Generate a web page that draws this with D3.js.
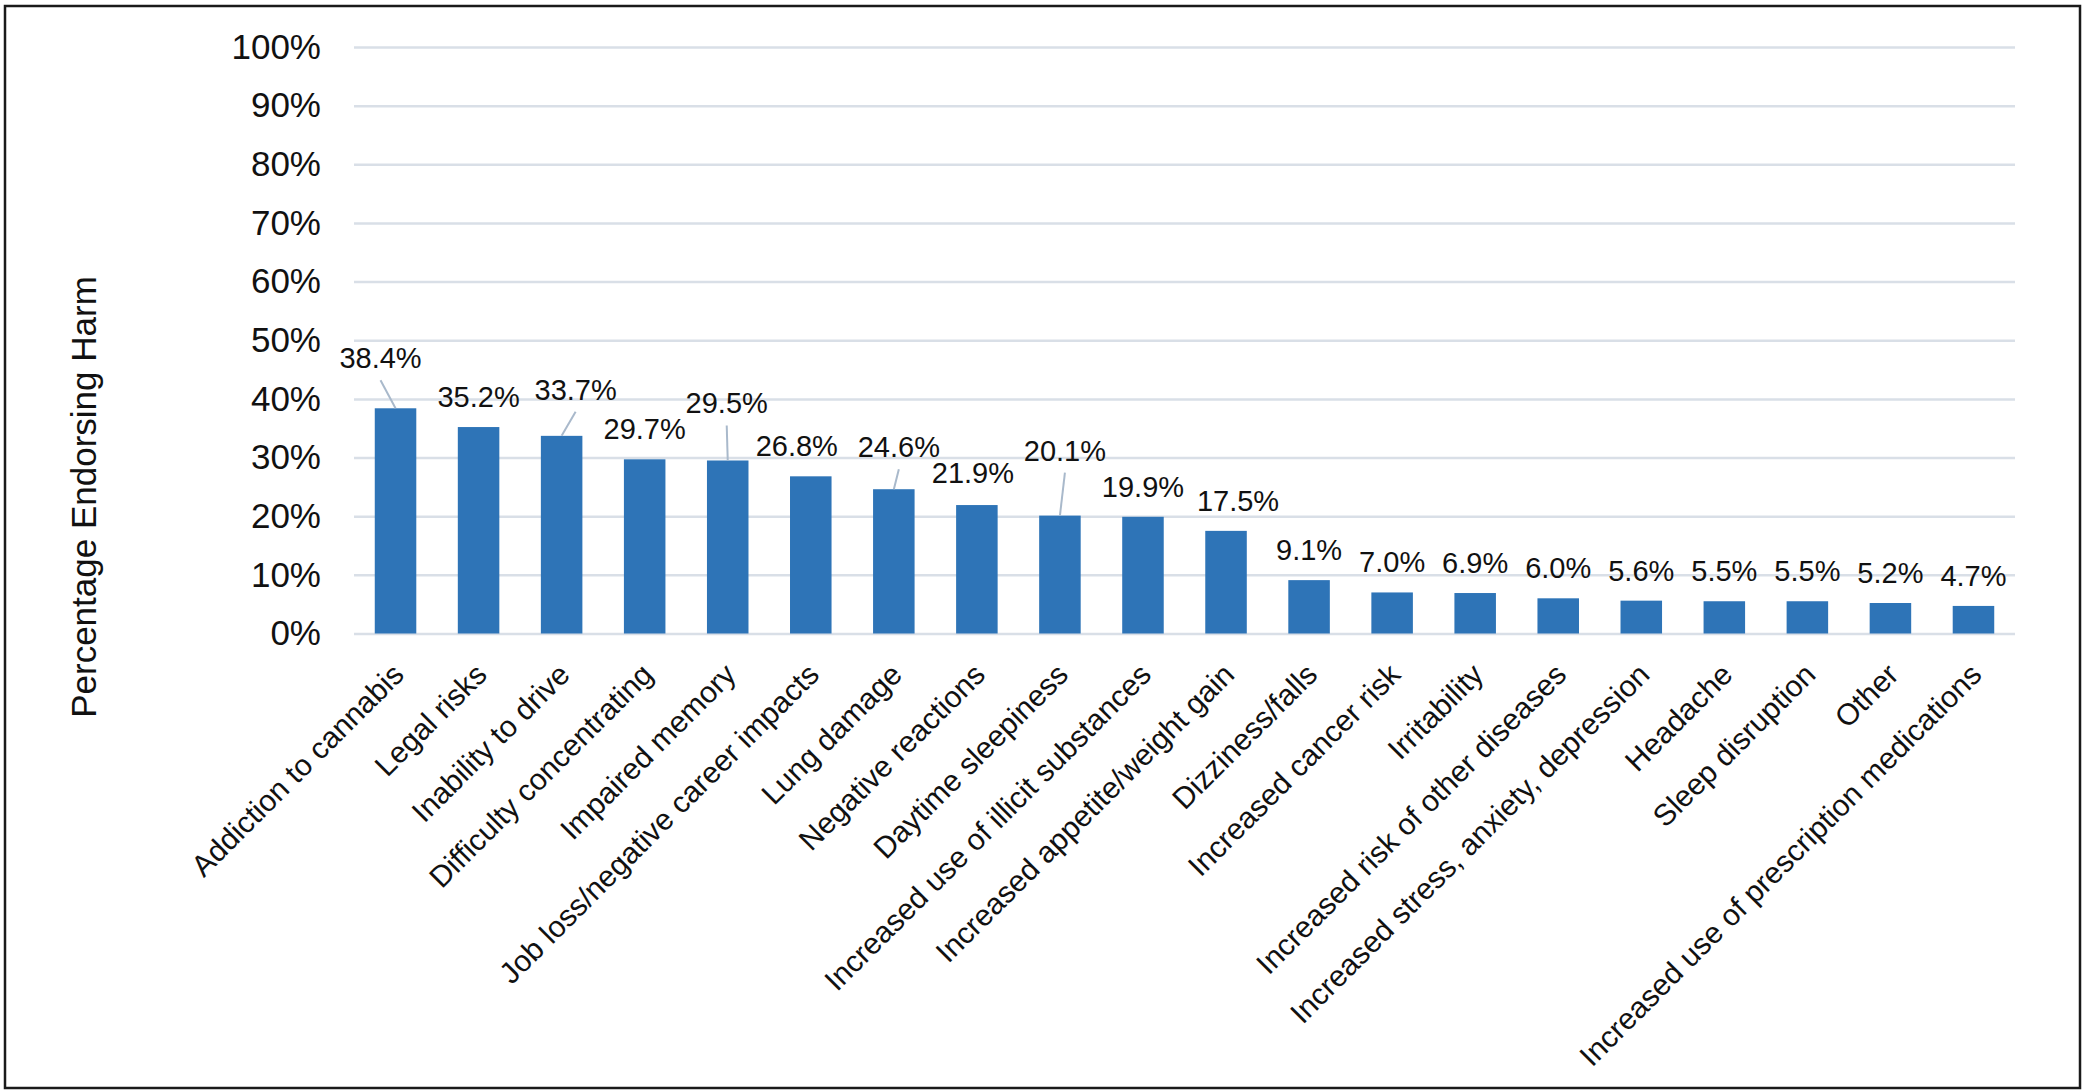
<!DOCTYPE html>
<html>
<head>
<meta charset="utf-8">
<script src="https://cdn.jsdelivr.net/npm/d3@7"></script>
<style>
    body { margin: 0; background: white; }
    text { font-family: "Liberation Sans", Arial, sans-serif; }
</style>
</head>
<body>
<div id="chart"></div>
<script>
//Chart data
const categories = ["Addiction to cannabis", "Legal risks", "Inability to drive", "Difficulty concentrating",
    "Impaired memory", "Job loss/negative career impacts", "Lung damage", "Negative reactions",
    "Daytime sleepiness", "Increased use of illicit substances", "Increased appetite/weight gain",
    "Dizziness/falls", "Increased cancer risk", "Irritability", "Increased risk of other diseases",
    "Increased stress, anxiety, depression", "Headache", "Sleep disruption", "Other",
    "Increased use of prescription medications"];
const values = [38.4, 35.2, 33.7, 29.7, 29.5, 26.8, 24.6, 21.9, 20.1, 19.9, 17.5,
    9.1, 7.0, 6.9, 6.0, 5.6, 5.5, 5.5, 5.2, 4.7];
const yTicks = [0, 10, 20, 30, 40, 50, 60, 70, 80, 90, 100];
const yTitle = "Percentage Endorsing Harm";

//Where the data labels were nudged away from the bar (pixels), and which ones get a leader line
const labelShift = [[-15, -20], [0, 0], [14, -16], [0, 0], [-1, -27], [-14, 0], [5, -12], [-4, -2],
    [5, -35], [0, 0], [12, 0], [0, 0], [0, 0], [0, 0], [0, 0], [0, 0], [0, 0], [0, 0], [0, 0], [0, 0]];
const hasLeader = [true, false, true, false, true, false, true, false, true, false,
    false, false, false, false, false, false, false, false, false, false];

const width = 2085;
const height = 1091;
const plotLeft = 354;
const plotRight = 2015;
const plotTop = 47;
const plotBottom = 633.5;

const svg = d3.select("#chart").append("svg")
    .attr("width", width)
    .attr("height", height);

svg.append("rect")
    .attr("width", width)
    .attr("height", height)
    .attr("fill", "white");

//outer frame
svg.append("rect")
    .attr("x", 5)
    .attr("y", 6)
    .attr("width", 2075)
    .attr("height", 1082)
    .attr("fill", "none")
    .attr("stroke", "#1a1a1a")
    .attr("stroke-width", 2.5);

const xScale = d3.scaleBand()
    .domain(categories)
    .range([plotLeft, plotRight])
    .paddingInner(0.5)
    .paddingOuter(0.25);

const yScale = d3.scaleLinear()
    .domain([0, 100])
    .range([plotBottom, plotTop]);

//gridlines + y labels
const yAxis = svg.append("g")
    .attr("transform", "translate(" + plotLeft + ",0)")
    .call(d3.axisLeft(yScale)
        .tickValues(yTicks)
        .tickSize(-(plotRight - plotLeft))
        .tickPadding(33)
        .tickFormat(d => d + "%"));
yAxis.select(".domain").remove();
yAxis.selectAll(".tick line")
    .attr("stroke", "#d9dfe7")
    .attr("stroke-width", 2.5);
yAxis.selectAll(".tick text")
    .attr("fill", "#111")
    .style("font-size", "35px")
    .style("font-family", "'Liberation Sans', Arial, sans-serif");

//bars
svg.append("g")
    .selectAll("rect")
    .data(values)
    .join("rect")
    .attr("x", (d, i) => xScale(categories[i]))
    .attr("y", d => yScale(d))
    .attr("width", xScale.bandwidth())
    .attr("height", d => yScale(0) - yScale(d))
    .attr("fill", "#2e74b7");

//x axis (category labels only)
const xAxis = svg.append("g")
    .attr("transform", "translate(0," + plotBottom + ")")
    .call(d3.axisBottom(xScale).tickSize(0).tickPadding(0));
xAxis.select(".domain").remove();
xAxis.selectAll(".tick text")
    .attr("fill", "#111")
    .style("font-size", "30px")
    .style("font-family", "'Liberation Sans', Arial, sans-serif")
    .attr("text-anchor", "end")
    .attr("y", 0)
    .attr("dy", 0)
    .attr("transform", "translate(10,43) rotate(-45)");

//leader lines then data labels
const labelX = i => xScale(categories[i]) + xScale.bandwidth() / 2 + labelShift[i][0];
const labelY = i => yScale(values[i]) - 20 + labelShift[i][1];

svg.append("g")
    .selectAll("line")
    .data(values.map((d, i) => i).filter(i => hasLeader[i]))
    .join("line")
    .attr("x1", i => labelX(i))
    .attr("y1", i => labelY(i) + 12)
    .attr("x2", i => xScale(categories[i]) + xScale.bandwidth() / 2)
    .attr("y2", i => yScale(values[i]))
    .attr("stroke", "#a9b9cb")
    .attr("stroke-width", 2);

svg.append("g")
    .selectAll("text")
    .data(values)
    .join("text")
    .attr("x", (d, i) => labelX(i))
    .attr("y", (d, i) => labelY(i))
    .attr("text-anchor", "middle")
    .attr("fill", "#111")
    .style("font-size", "29px")
    .text(d => d.toFixed(1) + "%");

//y axis title
svg.append("text")
    .attr("transform", "translate(96,497) rotate(-90)")
    .attr("text-anchor", "middle")
    .attr("fill", "#111")
    .style("font-size", "35px")
    .text(yTitle);
</script>
</body>
</html>
